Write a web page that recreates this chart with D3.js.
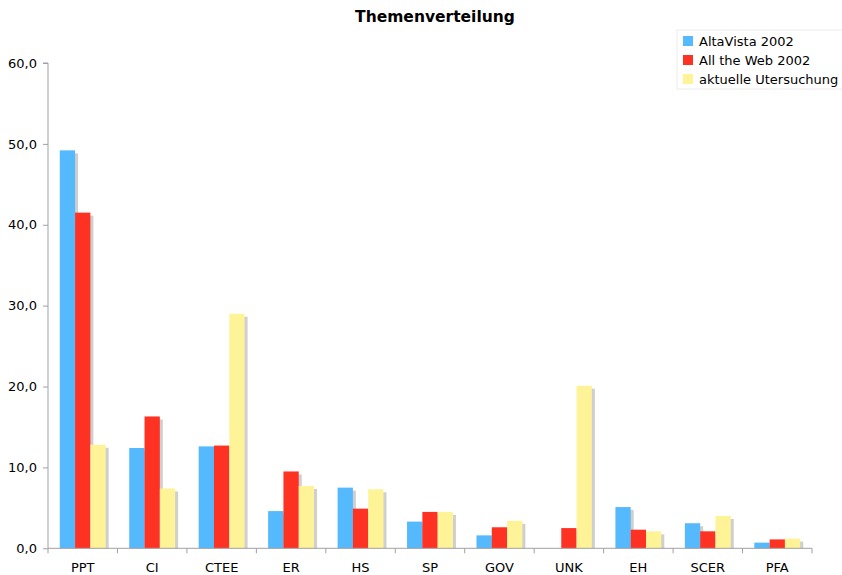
<!DOCTYPE html>
<html>
<head>
<meta charset="utf-8">
<script src="https://cdn.jsdelivr.net/npm/d3@7"></script>
<style>
  body { margin: 0; background: #fff; }
  svg { display: block; font-family: "DejaVu Sans", Verdana, sans-serif; }
</style>
</head>
<body>
<svg id="chart" width="842" height="575"></svg>
<script>
// Topic categories
const categories = ["PPT", "CI", "CTEE", "ER", "HS", "SP", "GOV", "UNK", "EH", "SCER", "PFA"];
// Series names
const seriesNames = ["AltaVista 2002", "All the Web 2002", "aktuelle Utersuchung"];
// Percentages per series
const altaVista = [49.2, 12.4, 12.6, 4.6, 7.5, 3.3, 1.6, 0, 5.1, 3.1, 0.7];
const allTheWeb = [41.5, 16.3, 12.7, 9.5, 4.9, 4.5, 2.6, 2.5, 2.3, 2.1, 1.1];
const aktuell   = [12.8, 7.4, 29.0, 7.7, 7.3, 4.5, 3.4, 20.1, 2.1, 4.0, 1.2];
// Y axis ticks
const yTicks = [0, 10, 20, 30, 40, 50, 60];

const seriesValues = [altaVista, allTheWeb, aktuell];
const colors = ["#55b9fd", "#fe3223", "#fff398"];

const svg = d3.select("#chart");
const margin = { left: 48 };

const x = d3.scaleBand().domain(categories).range([margin.left, 812]).paddingInner(0).paddingOuter(0);
const x1 = d3.scaleBand().domain(d3.range(seriesNames.length)).range([0, x.bandwidth()]).paddingInner(0).paddingOuter(0.77);
const y = d3.scaleLinear().domain([0, 60]).range([548.3, 63]);

// Title
svg.append("text")
  .attr("x", 435).attr("y", 22)
  .attr("text-anchor", "middle")
  .attr("font-size", 15.5).attr("font-weight", "bold")
  .text("Themenverteilung");

// Bars with a soft drop shadow
const groups = svg.append("g").selectAll("g")
  .data(categories)
  .join("g")
  .attr("transform", d => `translate(${x(d)},0)`);

const rows = ci => seriesValues.map((vals, si) => ({ si, v: vals[ci] }));

groups.each(function (c, ci) {
  const g = d3.select(this);
  const data = rows(ci).filter(d => d.v > 0);
  g.selectAll("rect.shadow").data(data).join("rect")
    .attr("class", "shadow")
    .attr("x", d => x1(d.si) + 3)
    .attr("y", d => y(d.v) + 3)
    .attr("width", x1.bandwidth())
    .attr("height", d => y(0) - y(d.v) - 3)
    .attr("fill", "#cfcfcf");
});
groups.each(function (c, ci) {
  const g = d3.select(this);
  const data = rows(ci).filter(d => d.v > 0);
  g.selectAll("rect.bar").data(data).join("rect")
    .attr("class", "bar")
    .attr("x", d => x1(d.si))
    .attr("y", d => y(d.v))
    .attr("width", x1.bandwidth())
    .attr("height", d => y(0) - y(d.v))
    .attr("fill", d => colors[d.si]);
});

// Y axis
const yAxis = d3.axisLeft(y).tickValues(yTicks).tickSize(5).tickPadding(6)
  .tickFormat(d => d3.format(".1f")(d).replace(".", ","));
const gy = svg.append("g").attr("transform", `translate(${margin.left},0)`).call(yAxis);
gy.select(".domain").attr("stroke", "#a0a0a0").attr("d", `M-5,${y(60)}H0V${y(0)}`);
gy.selectAll(".tick line").attr("stroke", "#a0a0a0");
gy.selectAll(".tick text").attr("font-size", 13).attr("fill", "#000")
  .attr("font-family", "DejaVu Sans, Verdana, sans-serif");

// X axis baseline with separators between categories
const gx = svg.append("g");
gx.append("line")
  .attr("x1", margin.left).attr("x2", 812)
  .attr("y1", y(0)).attr("y2", y(0))
  .attr("stroke", "#a0a0a0");
const seps = categories.map(c => x(c)).concat([x(categories[categories.length - 1]) + x.bandwidth()]);
gx.selectAll("line.sep").data(seps).join("line")
  .attr("class", "sep")
  .attr("x1", d => d).attr("x2", d => d)
  .attr("y1", y(0)).attr("y2", y(0) + 5)
  .attr("stroke", "#a0a0a0");
gx.selectAll("text").data(categories).join("text")
  .attr("x", d => x(d) + x.bandwidth() / 2)
  .attr("y", 572)
  .attr("text-anchor", "middle")
  .attr("font-size", 13)
  .text(d => d);

// Legend
const lg = svg.append("g").attr("transform", "translate(677,30)");
lg.append("rect")
  .attr("x", 0).attr("y", 0).attr("width", 170).attr("height", 59)
  .attr("fill", "#fff").attr("stroke", "#ececec");
const items = lg.selectAll("g.item").data(seriesNames).join("g")
  .attr("class", "item")
  .attr("transform", (d, i) => `translate(0,${i * 19})`);
items.append("rect")
  .attr("x", 6).attr("y", 6).attr("width", 10).attr("height", 10)
  .attr("fill", (d, i) => colors[i]);
items.append("text")
  .attr("x", 22).attr("y", 16)
  .attr("font-size", 13)
  .text(d => d);
</script>
</body>
</html>
